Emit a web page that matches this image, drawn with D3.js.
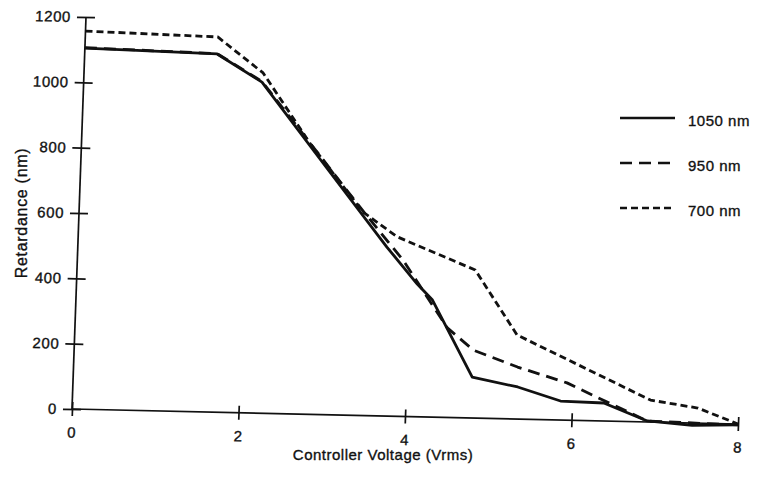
<!DOCTYPE html>
<html>
<head>
<meta charset="utf-8">
<script src="https://cdn.jsdelivr.net/npm/d3@7"></script>
<style>
    body { margin: 0; background: #fff; }
    text { font-family: "Liberation Sans", Arial, sans-serif; fill: #111; stroke: #111; stroke-width: 0.35px; }
</style>
</head>
<body>
<div id="container"></div>
<script>
// values
const seriesNames = ['1050 nm', '950 nm', '700 nm'];

const volt1050 = [0, 1.59, 2.14, 2.9, 3.71, 4.09, 4.28, 4.79, 5.34, 5.86, 6.38, 6.91, 7.45, 8];
const ret1050 = [1105, 1096, 1013, 772, 517, 406, 358, 125, 98, 58, 55, 3, -7, -3];

const volt950 = [0, 1.59, 2.14, 3.41, 3.91, 4.47, 4.79, 5.33, 5.93, 6.42, 6.91, 8];
const ret950 = [1106, 1097, 1015, 625, 478, 274, 208, 159, 114, 58, 3, -3];

const volt700 = [0, 1.59, 2.15, 2.74, 3.41, 3.83, 4.78, 5.31, 6.94, 7.51, 8];
const ret700 = [1157, 1148, 1041, 830, 622, 549, 453, 257, 67, 46, 0];

const xTicks = [0, 2, 4, 6, 8];
const yTicks = [0, 200, 400, 600, 800, 1000, 1200];

// dimensions
const width = 759;
const height = 481;
const plotW = 666;
const plotH = 392;

const dashes = ['none', '12,7', '7,4'];

const svg = d3.select('#container')
    .append('svg')
    .attr('width', width)
    .attr('height', height);

// the scan is slightly skewed, so the plot sits in a sheared group
const g = svg.append('g')
    .attr('transform', 'matrix(1,0.0225,-0.0357,1,86,17)');

const x = d3.scaleLinear().domain([0, 8]).range([0, plotW]);
const y = d3.scaleLinear().domain([0, 1200]).range([plotH, 0]);

// axes, ticks cross the axis line
const xAxis = g.append('g')
    .attr('transform', `translate(0,${plotH})`)
    .call(d3.axisBottom(x).tickValues(xTicks).tickSize(7).tickPadding(11).tickFormat(d3.format('d')));
xAxis.selectAll('.tick line').attr('y1', -7);

const yAxis = g.append('g')
    .call(d3.axisLeft(y).tickValues(yTicks).tickSize(9).tickPadding(6).tickFormat(d3.format('d')));
yAxis.selectAll('.tick line').attr('x1', 9);

[xAxis, yAxis].forEach((a) => {
    a.select('.domain').attr('stroke', '#111').attr('stroke-width', 1.7);
    a.selectAll('.tick line').attr('stroke', '#111').attr('stroke-width', 1.7);
    a.selectAll('text')
     .style('font-size', '15px')
     .style('letter-spacing', '0.6px')
     .attr('fill', '#111');
});
// strip the outer tick caps of the domain path
xAxis.select('.domain').attr('d', `M0,0H${plotW}`);
yAxis.select('.domain').attr('d', `M0,0V${plotH}`);

// lines
const series = [
    volt1050.map((v, i) => [v, ret1050[i]]),
    volt950.map((v, i) => [v, ret950[i]]),
    volt700.map((v, i) => [v, ret700[i]])
];

const line = d3.line()
    .x((d) => x(d[0]))
    .y((d) => y(d[1]));

g.selectAll('path.series')
    .data(series)
    .enter()
    .append('path')
    .attr('class', 'series')
    .attr('d', line)
    .attr('fill', 'none')
    .attr('stroke', '#111')
    .attr('stroke-width', 2.8)
    .attr('stroke-linejoin', 'round')
    .attr('stroke-dasharray', (d, i) => dashes[i]);

// axis titles
svg.append('text')
    .attr('x', 383)
    .attr('y', 460)
    .attr('text-anchor', 'middle')
    .style('font-size', '15px')
    .style('letter-spacing', '0.5px')
    .text('Controller Voltage (Vrms)');

svg.append('text')
    .attr('transform', 'translate(27,213) rotate(-90)')
    .attr('text-anchor', 'middle')
    .style('font-size', '16px')
    .style('letter-spacing', '0.7px')
    .text('Retardance (nm)');

// legend
const legend = svg.append('g')
    .attr('transform', 'translate(620,118)');

const item = legend.selectAll('g')
    .data(seriesNames)
    .enter()
    .append('g')
    .attr('transform', (d, i) => `translate(0,${i * 45})`);

item.append('line')
    .attr('x1', 0)
    .attr('x2', 55)
    .attr('stroke', '#111')
    .attr('stroke-width', 2.4)
    .attr('stroke-dasharray', (d, i) => dashes[i]);

item.append('text')
    .attr('x', 68)
    .attr('dy', '0.5em')
    .style('font-size', '15px')
    .style('letter-spacing', '0.5px')
    .text((d) => d);
</script>
</body>
</html>
